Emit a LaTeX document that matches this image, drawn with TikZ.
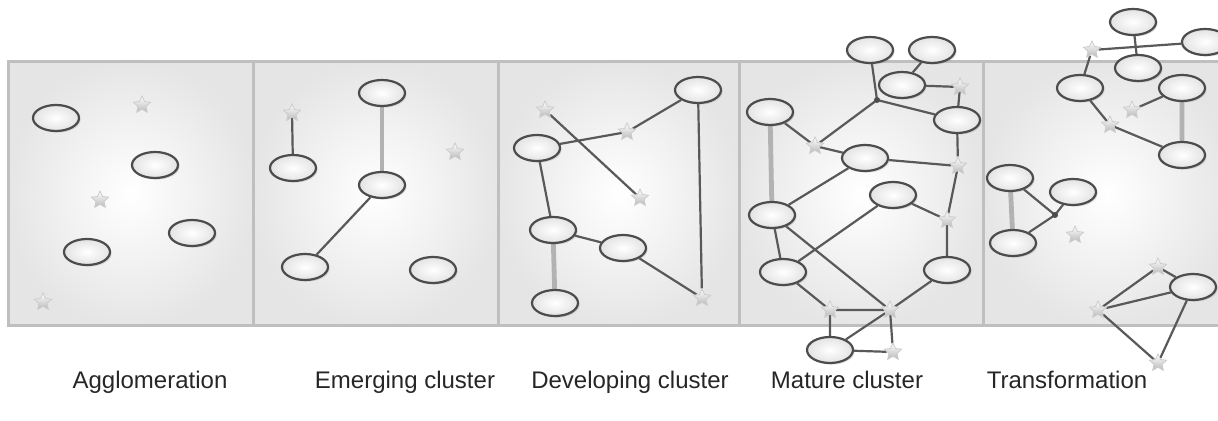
\documentclass[tikz,border=0pt]{standalone}
\usepackage{fontspec}
\setmainfont{Liberation Sans}
\usetikzlibrary{positioning,shapes.geometric,shadows}
\pgfdeclarelayer{background}
\pgfdeclarelayer{below-main}
\pgfsetlayers{background,below-main,main}

\begin{document}
\begin{tikzpicture}[x=0.5pt,y=-0.5pt,
    actor/.style={ellipse, draw=black!70, line width=1.1pt, inner sep=0pt,
      minimum width=23pt, minimum height=13pt,
      shading=radial, inner color=white, outer color=gray!22,
      drop shadow={shadow xshift=0.8pt, shadow yshift=-0.8pt, opacity=0.25}},
    newcomer/.style={star, star points=5, star point ratio=2.1, inner sep=0pt,
      minimum size=9pt, draw=gray!40, line width=0.4pt,
      top color=white, bottom color=gray!55},
    link/.style={draw=black!65, line width=1.1pt},
    bond/.style={draw=gray!60, line width=2.4pt},
    panel/.style={draw=gray!50, line width=1.5pt,
      shading=radial, inner color=white, outer color=gray!20},
    stage/.style={anchor=base, font=\fontsize{12}{14}\selectfont, text=black!85}]
    \useasboundingbox (0,0) rectangle (1218,421);

    % the five panels
    \begin{pgfonlayer}{background}
      \foreach \l/\r in {8/253,253/498,498/739,739/983,983/1232}
        \draw[panel] (\l,62) rectangle (\r,326);
    \end{pgfonlayer}

    % agglomeration
    \node[actor] (a1) at (56,118) {};
    \node[actor] (a2) at (155,165) {};
    \node[actor] (a3) at (192,233) {};
    \node[actor] (a4) at (87,252) {};
    \node[newcomer] (as1) at (142,105) {};
    \node[newcomer] (as2) at (100,200) {};
    \node[newcomer] (as3) at (43,302) {};

    % emerging cluster
    \node[actor] (b1) at (382,93) {};
    \node[actor] (b2) at (293,168) {};
    \node[actor] (b3) at (382,185) {};
    \node[actor] (b4) at (305,267) {};
    \node[actor] (b5) at (433,270) {};
    \node[newcomer] (bs1) at (292,113) {};
    \node[newcomer] (bs2) at (455,152) {};

    % developing cluster
    \node[actor] (c1) at (698,90) {};
    \node[actor] (c2) at (537,148) {};
    \node[actor] (c3) at (553,230) {};
    \node[actor] (c4) at (623,248) {};
    \node[actor] (c5) at (555,303) {};
    \node[newcomer] (cs1) at (545,110) {};
    \node[newcomer] (cs2) at (627,132) {};
    \node[newcomer] (cs3) at (640,198) {};
    \node[newcomer] (cs4) at (702,298) {};

    % mature cluster
    \node[actor] (d1) at (870,50) {};
    \node[actor] (d2) at (932,50) {};
    \node[actor] (d3) at (902,85) {};
    \node[actor] (d4) at (957,120) {};
    \node[actor] (d5) at (770,112) {};
    \node[actor] (d6) at (865,158) {};
    \node[actor] (d7) at (893,195) {};
    \node[actor] (d8) at (772,215) {};
    \node[actor] (d9) at (783,272) {};
    \node[actor] (d10) at (947,270) {};
    \node[actor] (d11) at (830,350) {};
    \node[newcomer] (ds1) at (960,87) {};
    \node[newcomer] (ds2) at (815,146) {};
    \node[newcomer] (ds3) at (958,166) {};
    \node[newcomer] (ds4) at (947,220) {};
    \node[newcomer] (ds5) at (830,310) {};
    \node[newcomer] (ds6) at (890,310) {};
    \node[newcomer] (ds7) at (893,352) {};
    \coordinate (dj) at (877,100);

    % transformation
    \node[actor] (e1) at (1133,22) {};
    \node[actor] (e2) at (1205,42) {};
    \node[actor] (e3) at (1138,68) {};
    \node[actor] (e4) at (1080,88) {};
    \node[actor] (e5) at (1182,88) {};
    \node[actor] (e6) at (1182,155) {};
    \node[actor] (e7) at (1010,178) {};
    \node[actor] (e8) at (1073,192) {};
    \node[actor] (e9) at (1013,243) {};
    \node[actor] (e10) at (1193,287) {};
    \node[newcomer] (es1) at (1092,50) {};
    \node[newcomer] (es2) at (1132,110) {};
    \node[newcomer] (es3) at (1110,125) {};
    \node[newcomer] (es4) at (1075,235) {};
    \node[newcomer] (es5) at (1158,267) {};
    \node[newcomer] (es6) at (1098,310) {};
    \node[newcomer] (es7) at (1158,363) {};
    \coordinate (ej) at (1055,215);

    % ties between the firms
    \begin{pgfonlayer}{below-main}
      \draw[link] (bs1) -- (b2) (b3) -- (b4);
      \draw[bond] (b1) -- (b3);

      \draw[link] (cs1) -- (cs3) (c2) -- (cs2) -- (c1) -- (cs4)
        (c2) -- (c3) -- (c4) -- (cs4);
      \draw[bond] (c3) -- (c5);

      \draw[link] (d1) -- (dj) -- (ds2) (dj) -- (d4)
        (d2) -- (d3) -- (ds1) -- (d4) -- (ds3)
        (d5) -- (ds2) -- (d6) -- (ds3) -- (ds4) -- (d10)
        (d7) -- (ds4) (d6) -- (d8) -- (d9) (d8) -- (ds6)
        (d7) -- (d9) (d10) -- (ds6) (d9) -- (ds5) -- (ds6)
        (ds5) -- (d11) -- (ds6) -- (ds7) -- (d11);
      \draw[bond] (d5) -- (d8);

      \draw[link] (e1) -- (e3) (es1) -- (e2) (es1) -- (e4) -- (es3) -- (e6)
        (es2) -- (e5) (e7) -- (ej) -- (e9) (ej) -- (e8)
        (es6) -- (es5) -- (e10) -- (es6) -- (es7) -- (e10);
      \draw[bond] (e5) -- (e6) (e7) -- (e9);
    \end{pgfonlayer}
    \fill[black!70] (dj) circle (1.5pt) (ej) circle (1.5pt);

    % stage names
    \node[stage] (lagglo) at (150,388) {Agglomeration};
    \node[stage] (lemerg) at (405,388) {Emerging cluster};
    \node[stage] (ldevel) at (630,388) {Developing cluster};
    \node[stage] (lmature) at (847,388) {Mature cluster};
    \node[stage] (ltrans) at (1067,388) {Transformation};
\end{tikzpicture}
\end{document}
